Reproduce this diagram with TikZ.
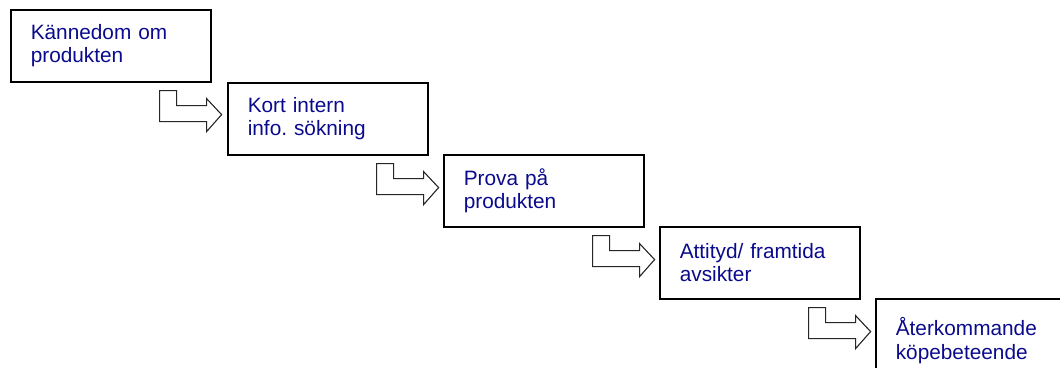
\documentclass[tikz,border=0pt]{standalone}
\usepackage{fontspec}
\setmainfont{Liberation Sans}
\definecolor{stepblue}{RGB}{10,10,140}
\begin{document}
\begin{tikzpicture}[x=1pt,y=-1pt,
  stagebox/.style={draw=black, line width=1.6pt, rectangle,
    minimum width=200pt, minimum height=72pt, text width=160pt,
    inner xsep=20pt, inner ysep=0pt, align=left, anchor=north west,
    text=stepblue, font=\fontsize{20.8}{23.5}\selectfont\frenchspacing},
  bentarrow/.style={draw=black!85, line width=1.1pt, fill=white, line join=miter}]
\useasboundingbox (0,0) rectangle (1060,367);
\clip (0,0) rectangle (1060,367);

% the five stages, stepping down to the right
\node[stagebox] (s1) at (10,9)   {Kännedom om\\produkten};
\node[stagebox] (s2) at (227,82) {Kort intern\\info. sökning};
\node[stagebox] (s3) at (443,154){Prova på\\produkten};
\node[stagebox] (s4) at (659,226){Attityd/ framtida\\avsikter};
\node[stagebox, minimum width=195pt, minimum height=84pt] (s5) at (875,298){Återkommande\\köpebeteende};

% bent block arrows under each stage, pointing at the next one
\foreach \src in {s1,s2,s3,s4}{
  \begin{scope}[shift={(\src.south east)}]
    \draw[bentarrow] (-52,8) -- (-35,8) -- (-35,23) -- (-5,23) -- (-5,16)
      -- (10,32) -- (-5,49) -- (-5,39) -- (-52,39) -- cycle;
  \end{scope}
}
\end{tikzpicture}
\end{document}
